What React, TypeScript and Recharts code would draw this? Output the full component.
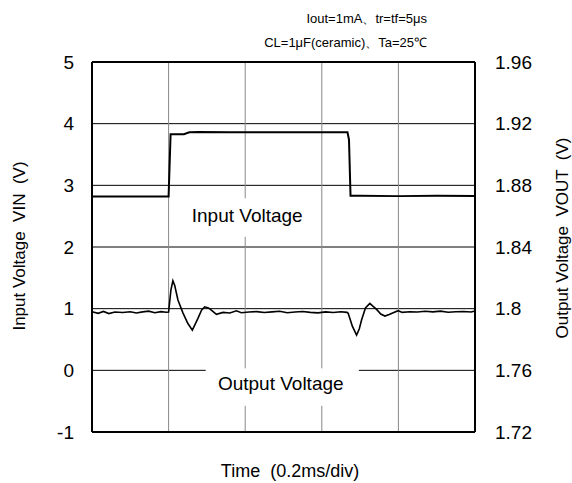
import React from 'react';
import { LineChart, Line, XAxis, YAxis, CartesianGrid, ReferenceLine } from 'recharts';

const FONT = '"Liberation Sans", Arial, Helvetica, sans-serif';

const xTicks = [0, 1, 2, 3, 4, 5];
const leftTicks = [-1, 0, 1, 2, 3, 4, 5];
const rightTicks = [1.72, 1.76, 1.8, 1.84, 1.88, 1.92, 1.96];

// time in divisions (0.2 ms/div)
const inputTime = [0, 0.5, 1.0, 1.026, 1.2, 1.27, 1.4, 1.8, 2.5, 3.0, 3.335, 3.355, 3.375, 3.5, 4.0, 4.5, 5.0];
const inputVolt = [2.82, 2.82, 2.82, 3.83, 3.83, 3.86, 3.865, 3.86, 3.86, 3.86, 3.86, 3.74, 2.83, 2.83, 2.825, 2.83, 2.825];

const outputTime = [
  0, 0.08, 0.15, 0.22, 0.3, 0.4, 0.5, 0.58, 0.66, 0.74, 0.82, 0.9, 0.97, 1.0,
  1.03, 1.056, 1.08, 1.122, 1.187, 1.25, 1.31, 1.383, 1.43, 1.471, 1.52, 1.558, 1.624, 1.71, 1.8, 1.885, 1.95,
  2.05, 2.15, 2.25, 2.35, 2.45, 2.55, 2.65, 2.75, 2.85, 2.95, 3.05, 3.15, 3.25, 3.33,
  3.344, 3.4, 3.454, 3.49, 3.519, 3.57, 3.627, 3.67, 3.715, 3.77, 3.824, 3.88, 3.932, 3.997,
  4.05, 4.15, 4.25, 4.35, 4.45, 4.55, 4.65, 4.75, 4.85, 4.95, 5.0,
];
const outputVolt = [
  1.798, 1.797, 1.7982, 1.7968, 1.7978, 1.7975, 1.798, 1.7972, 1.7979, 1.7984, 1.7974, 1.7981, 1.7977, 1.7978,
  1.812, 1.8181, 1.815, 1.8056, 1.7973, 1.7905, 1.7861, 1.7937, 1.799, 1.8012, 1.8005, 1.7991, 1.7963, 1.7976, 1.7972, 1.7986, 1.7974,
  1.7978, 1.7981, 1.7975, 1.7979, 1.7983, 1.7974, 1.7978, 1.7982, 1.7976, 1.7973, 1.7979, 1.7975, 1.798, 1.7976,
  1.797, 1.7885, 1.7829, 1.787, 1.7926, 1.8005, 1.8034, 1.8015, 1.7995, 1.7965, 1.7952, 1.7962, 1.7974, 1.7987,
  1.7976, 1.798, 1.7978, 1.7983, 1.7979, 1.7984, 1.7977, 1.798, 1.7982, 1.7978, 1.7985,
];

const inputData = inputTime.map((t, i) => ({ t, vin: inputVolt[i] }));
const outputData = outputTime.map((t, i) => ({ t, vout: outputVolt[i] }));

const tickStyle = { fontSize: 19, fill: '#000', fontFamily: FONT };

// chart geometry (matches margins / axis sizes below)
const W = 572;
const H = 483;
const PLOT_L = 92;
const PLOT_R = W - 97;
const PLOT_T = 62;
const PLOT_B = H - 51;
const sx = (t: number) => PLOT_L + (t / 5) * (PLOT_R - PLOT_L);
const sy = (v: number) => PLOT_T + ((5 - v) / 6) * (PLOT_B - PLOT_T);

const EmptyTick = () => <g />;
const HLine = (p: any) => <line x1={p.x1} y1={p.y1} x2={p.x2} y2={p.y2} stroke="#000" strokeWidth={1} />;
const VLine = (p: any) => <line x1={p.x1} y1={p.y1} x2={p.x2} y2={p.y2} stroke="#888" strokeWidth={1} />;

// annotation boxes (in data units: time div, left-axis volts)
const inBox = { x1: 1.013, x2: 2.974, y1: 2.79, y2: 2.164 };
const outBox = { x1: 1.484, x2: 3.484, y1: 0.032, y2: -0.575 };

export default function App() {
  return (
    <div style={{ position: 'absolute', left: 0, top: 0, width: W, height: H, background: '#fff' }}>
      <div style={{ position: 'absolute', left: 0, top: 0, zIndex: 1 }}>
        <LineChart width={W} height={H} margin={{ top: 62, right: 0, bottom: 0, left: 0 }}>
          <CartesianGrid yAxisId="left" horizontal={HLine} vertical={VLine} />
          <XAxis
            dataKey="t"
            type="number"
            domain={[0, 5]}
            ticks={xTicks}
            tick={EmptyTick}
            tickLine={false}
            height={51}
            axisLine={{ stroke: '#000', strokeWidth: 2 }}
            allowDataOverflow
          />
          <YAxis
            yAxisId="left"
            orientation="left"
            type="number"
            domain={[-1, 5]}
            ticks={leftTicks}
            width={92}
            tickLine={false}
            tickSize={6}
            tickMargin={12}
            tick={tickStyle}
            axisLine={{ stroke: '#000', strokeWidth: 2 }}
            allowDataOverflow
          />
          <YAxis
            yAxisId="right"
            orientation="right"
            type="number"
            domain={[1.72, 1.96]}
            ticks={rightTicks}
            width={97}
            tickLine={false}
            tickSize={6}
            tickMargin={14}
            tick={tickStyle}
            tickFormatter={(v: number) => String(Number(v.toFixed(2)))}
            axisLine={{ stroke: '#000', strokeWidth: 2 }}
            allowDataOverflow
          />
          <ReferenceLine yAxisId="left" y={5} stroke="#000" strokeWidth={2} />
          <Line
            yAxisId="left"
            data={inputData}
            dataKey="vin"
            type="linear"
            stroke="#000"
            strokeWidth={2}
            dot={false}
            isAnimationActive={false}
          />
          <Line
            yAxisId="right"
            data={outputData}
            dataKey="vout"
            type="linear"
            stroke="#000"
            strokeWidth={1.6}
            dot={false}
            isAnimationActive={false}
          />
        </LineChart>
      </div>
      <svg width={W} height={H} style={{ position: 'absolute', left: 0, top: 0, zIndex: 10, pointerEvents: 'none' }}>
        <rect x={sx(inBox.x1)} y={sy(inBox.y1)} width={sx(inBox.x2) - sx(inBox.x1)} height={sy(inBox.y2) - sy(inBox.y1)} fill="#ffffff" fillOpacity={1} />
        <rect x={sx(outBox.x1)} y={sy(outBox.y1)} width={sx(outBox.x2) - sx(outBox.x1)} height={sy(outBox.y2) - sy(outBox.y1)} fill="#ffffff" fillOpacity={1} />
        <g fontFamily={FONT} fill="#000">
          <text x={sx(2.026)} y={sy(2.52) + 6.8} fontSize={19} textAnchor="middle">Input Voltage</text>
          <text x={sx(2.464)} y={sy(-0.207) + 6.8} fontSize={19} textAnchor="middle">Output Voltage</text>
          <text x={427} y={23} fontSize={13} textAnchor="end">Iout=1mA、tr=tf=5μs</text>
          <text x={427} y={47} fontSize={13} textAnchor="end">CL=1μF(ceramic)、Ta=25℃</text>
          <text x={290} y={476.5} fontSize={18} textAnchor="middle" style={{ whiteSpace: 'pre' }}>Time  (0.2ms/div)</text>
          <text
            x={0}
            y={0}
            fontSize={17}
            textAnchor="middle"
            transform="translate(24.5,246) rotate(-90)"
            style={{ whiteSpace: 'pre' }}
          >Input Voltage  VIN  (V)</text>
          <text
            x={0}
            y={0}
            fontSize={17}
            textAnchor="middle"
            transform="translate(567.5,238) rotate(-90)"
            style={{ whiteSpace: 'pre' }}
          >Output Voltage  VOUT  (V)</text>
        </g>
      </svg>
    </div>
  );
}
